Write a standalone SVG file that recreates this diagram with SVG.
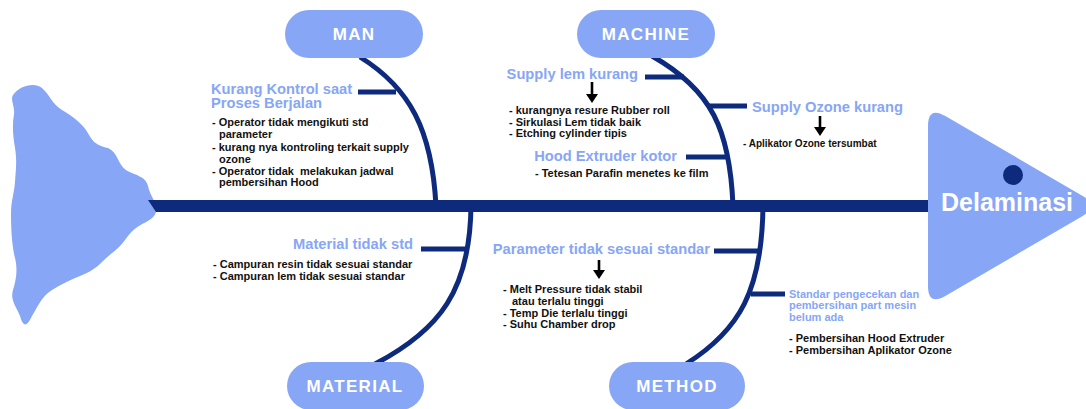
<svg xmlns="http://www.w3.org/2000/svg" width="1086" height="409" viewBox="0 0 1086 409">
<defs>
<style>
.fill{fill:#87a6f6}
.bone{fill:none;stroke:#0d2a7c;stroke-width:5;stroke-linecap:butt}
.br{stroke:#0d2a7c;stroke-width:5}
.pill{font-family:"Liberation Sans",Arial,sans-serif;font-weight:bold;font-size:17px;fill:#fff;text-anchor:middle;letter-spacing:1.3px}
.hd{font-family:"Liberation Sans",Arial,sans-serif;font-weight:bold;font-size:14.7px;fill:#87a6f6}
.sub{font-family:"Liberation Sans",Arial,sans-serif;font-weight:bold;font-size:11px;fill:#87a6f6}
.it{font-family:"Liberation Sans",Arial,sans-serif;font-weight:bold;font-size:11px;fill:#111}
.sm{font-size:10px}
.arr{stroke:#000;stroke-width:2.6}
</style>
<marker id="ah" markerUnits="userSpaceOnUse" markerWidth="9" markerHeight="12" refX="1" refY="6" orient="auto" viewBox="0 0 9 12">
<path d="M0 0 L9 6 L0 12 Z" fill="#000"/>
</marker>
</defs>
<rect width="1086" height="409" fill="#fff"/>

<g id="tail">
<path class="fill" d="M13 95 C20 85 35 82 42 88 C50 95 52 104 62 110 C72 116 80 122 86 130 C92 140 94 145 108 148 C118 152 118 165 126 170 C134 175 146 176 148 186 C150 196 158 204 156 212 C154 220 144 222 136 228 C128 234 126 240 120 246 C114 252 108 256 102 262 C96 268 90 272 80 276 C70 280 62 284 52 290 C42 296 38 306 32 316 C28 324 24 330 20 316 C16 306 10 300 13 290 C16 280 18 270 15 258 C12 246 11 230 11 214 C11 200 14 195 15 182 C16 168 17 160 15 148 C13 136 12 126 14 114 C15 106 10 100 13 95 Z"/>
</g>

<g id="spine">
<path d="M148 200 L936 200 L936 212 L156 212 Z" fill="#0d2a7c"/>
</g>

<g id="head">
<path class="fill" d="M928 126 L928 286 Q928 306 945.3 296 L1082.7 216 Q1100 206 1082.7 196 L945.3 116 Q928 106 928 126 Z"/>
<circle cx="1013" cy="175" r="10" fill="#0d2a7c"/>
<text x="1007" y="211" font-family="'Liberation Sans',Arial,sans-serif" font-weight="bold" font-size="25" fill="#fff" text-anchor="middle">Delaminasi</text>
</g>

<g id="connectors">
<path class="bone" d="M360 57 C410 88 432 130 436 206"/>
<path class="bone" d="M652 56 C712 90 730 130 733 206"/>
<path class="bone" d="M471 206 C470 290 440 330 375 364"/>
<path class="bone" d="M763 206 C762 290 740 330 686 364"/>
<line class="br" x1="358" y1="92" x2="396" y2="92"/>
<line class="br" x1="645" y1="77" x2="684" y2="77"/>
<line class="br" x1="708" y1="106" x2="747" y2="106"/>
<line class="br" x1="686" y1="157" x2="726" y2="157"/>
<line class="br" x1="421" y1="249" x2="466" y2="249"/>
<line class="br" x1="714" y1="251" x2="759" y2="251"/>
<line class="br" x1="751" y1="294" x2="785" y2="294"/>
<line class="arr" x1="592" y1="82" x2="592" y2="95" marker-end="url(#ah)"/>
<line class="arr" x1="820" y1="116" x2="820" y2="128" marker-end="url(#ah)"/>
<line class="arr" x1="599" y1="260" x2="599" y2="271" marker-end="url(#ah)"/>
</g>

<g id="man">
<rect class="fill" x="285" y="10" width="138" height="48" rx="24"/>
<text class="pill" x="354" y="40">MAN</text>
<text class="hd" x="211" y="94">Kurang Kontrol saat</text>
<text class="hd" x="211" y="108">Proses Berjalan</text>
<text class="it" x="212" y="126">- Operator tidak mengikuti std</text>
<text class="it" x="219" y="137.5">parameter</text>
<text class="it" x="212" y="151">- kurang nya kontroling terkait supply</text>
<text class="it" x="219" y="162.5">ozone</text>
<text class="it" x="212" y="174.5" xml:space="preserve">- Operator tidak  melakukan jadwal</text>
<text class="it" x="219" y="186">pembersihan Hood</text>
</g>

<g id="machine">
<rect class="fill" x="577" y="10" width="138" height="48" rx="24"/>
<text class="pill" x="646" y="40">MACHINE</text>
<text class="hd" x="638" y="79" text-anchor="end">Supply lem kurang</text>
<text class="it" x="509" y="114">- kurangnya resure Rubber roll</text>
<text class="it" x="509" y="125.5">- Sirkulasi Lem tidak baik</text>
<text class="it" x="509" y="137">- Etching cylinder tipis</text>
<text class="hd" x="677" y="161" text-anchor="end">Hood Extruder kotor</text>
<text class="it" x="535" y="177">- Tetesan Parafin menetes ke film</text>
<text class="hd" x="752" y="112">Supply Ozone kurang</text>
<text class="it sm" x="743" y="147">- Aplikator Ozone tersumbat</text>
</g>

<g id="material">
<rect class="fill" x="287" y="362" width="137" height="48" rx="24"/>
<text class="pill" x="355" y="392">MATERIAL</text>
<text class="hd" x="413" y="249" text-anchor="end">Material tidak std</text>
<text class="it" x="213" y="268">- Campuran resin tidak sesuai standar</text>
<text class="it" x="213" y="279.5">- Campuran lem tidak sesuai standar</text>
</g>

<g id="method">
<rect class="fill" x="609" y="362" width="136" height="48" rx="24"/>
<text class="pill" x="677" y="392">METHOD</text>
<text class="hd" x="710" y="254" text-anchor="end">Parameter tidak sesuai standar</text>
<text class="it" x="503" y="293">- Melt Pressure tidak stabil</text>
<text class="it" x="512" y="305">atau terlalu tinggi</text>
<text class="it" x="503" y="316.5">- Temp Die terlalu tinggi</text>
<text class="it" x="503" y="328">- Suhu Chamber drop</text>
<text class="sub" x="789" y="297.5">Standar pengecekan dan</text>
<text class="sub" x="789" y="309">pembersihan part mesin</text>
<text class="sub" x="789" y="321">belum ada</text>
<text class="it" x="789" y="341.5">- Pembersihan Hood Extruder</text>
<text class="it" x="789" y="353.5">- Pembersihan Aplikator Ozone</text>
</g>
</svg>
